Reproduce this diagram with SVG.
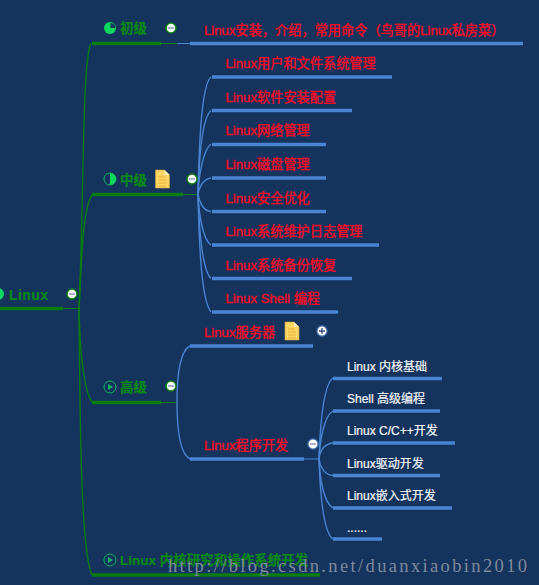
<svg xmlns="http://www.w3.org/2000/svg" width="539" height="585" viewBox="0 0 539 585">
<style>
text{font-family:"Liberation Sans","Noto Sans CJK SC",sans-serif}
.g{fill:#0a8a14;stroke:#0a8a14;stroke-width:.2;font-size:13.5px;font-weight:700}
.r{fill:#ff0a24;stroke:#ff0a24;stroke-width:.3;font-size:13.2px}
.w{fill:#f5f7fa;stroke:#f5f7fa;stroke-width:.2;font-size:12px}
.gc{fill:none;stroke:#0a7d12;stroke-width:1.4}
.bc{fill:none;stroke:#4a84d4;stroke-width:1.4}
.gu{stroke:#0a7d12;stroke-width:3.4}
.bu{stroke:#4a84d4;stroke-width:3.4}
.gt{stroke:#0a7d12;stroke-width:1}
.bt{stroke:#4a84d4;stroke-width:1}
.tg{fill:#fff;stroke:#0a7d12;stroke-width:1.5}
.tb{fill:#fff;stroke:#35629f;stroke-width:1.5}
.m{stroke:#7d86b5;stroke-width:1.3;fill:none}
.ic{fill:none;stroke:#0fb85c;stroke-width:1}
.dot{fill:#0bd85e}
.nt{fill:#fdd663;stroke:#c9a544;stroke-width:.6}
.nl{stroke:#e2a72c;stroke-width:.8}
</style>
<defs>
<g id="note"><path class="nt" d="M-7-9H2L7-4V9H-7Z"/><path d="M2-9L7-4H2Z" fill="#fff0c0"/><path class="nl" d="M-4-2H3M-4 1H4M-4 4H4M-4 7H4"/></g>
<g id="minusG"><circle class="tg" r="5"/><path class="m" d="M-3 0H3"/></g>
<g id="minusB"><circle class="tb" r="5.2"/><path class="m" d="M-3 0H3"/></g>
<g id="play"><circle class="ic" r="6"/><path d="M-2-3L3 0L-2 3Z" fill="#0fb85c"/></g>
</defs>
<rect width="539" height="585" fill="#14335d"/>
<g id="connectors">
<path class="gc" d="M79 308C84 200 82 60 91 43"/>
<path class="gc" d="M79 308C82 260 82 210 92 195"/>
<path class="gc" d="M79 308C80 350 84 390 92 402"/>
<path class="gc" d="M79 308C80 400 80 550 92 575"/>
<path class="gt" d="M63 308.500H79"/>
<path class="gt" d="M161 43.500H177"/>
<path class="bt" d="M177 43.500H191"/>
<path class="gt" d="M183 194.500H198"/>
<path class="gt" d="M161 402.500H177"/>
<path class="bt" d="M304 459H319"/>
<path class="bc" d="M198 194C199 150 201 85 211 77"/>
<path class="bc" d="M198 194C199 160 202 118 211 110.500"/>
<path class="bc" d="M198 194C199 175 203 150 211 144"/>
<path class="bc" d="M198 194C200 185 204 179 211 178"/>
<path class="bc" d="M198 194C200 204 204 211 211 211.500"/>
<path class="bc" d="M198 194C199 215 203 240 211 245"/>
<path class="bc" d="M198 194C199 225 202 270 211 278.500"/>
<path class="bc" d="M198 194C199 240 201 300 211 312"/>
<path class="bc" d="M177 402C177 385 178 352 190 346"/>
<path class="bc" d="M177 402C177 420 178 453 190 459"/>
<path class="bc" d="M319 459C320 430 323 385 333 378"/>
<path class="bc" d="M319 459C320 440 324 416 333 411"/>
<path class="bc" d="M319 459C320 450 325 444 333 443"/>
<path class="bc" d="M319 459C320 467 325 475 333 475.500"/>
<path class="bc" d="M319 459C320 480 324 503 333 508"/>
<path class="bc" d="M319 459C320 490 323 532 333 539"/>
</g>
<g id="root"><path class="gu" d="M0 308.500H63"/><circle cx="-2" cy="294" r="6" class="dot"/><text x="9" y="300" class="g" style="font-size:14px;letter-spacing:.4px">Linux</text><use href="#minusG" x="72" y="294"/></g>
<g id="n-chuji"><path class="gu" d="M92 43.500H161"/><circle cx="110" cy="28" r="6" class="dot"/><path d="M110.500 23V28H115.500A5 5 0 0 0 110.500 23Z" fill="#14335d"/><text x="120" y="33" class="g">初级</text><use href="#minusG" x="171" y="28"/></g>
<g id="n-install"><path class="bu" d="M190 43.500H523"/><text x="204" y="35" class="r">Linux安装，介绍，常用命令（鸟哥的Linux私房菜）</text></g>
<g id="n-zhongji"><path class="gu" d="M92 194.500H183"/><circle cx="110" cy="179" r="6" class="ic"/><path d="M110 173A6 6 0 0 1 110 185Z" fill="#0bd85e"/><text x="120" y="185" class="g">中级</text><use href="#note" x="162.500" y="179"/><use href="#minusG" x="192" y="179"/></g>
<g id="m1"><path class="bu" d="M212 77H392"/><text x="225.500" y="68" class="r">Linux用户和文件系统管理</text></g>
<g id="m2"><path class="bu" d="M212 110.500H352"/><text x="225.500" y="102" class="r">Linux软件安装配置</text></g>
<g id="m3"><path class="bu" d="M212 144.500H326"/><text x="225.500" y="135" class="r">Linux网络管理</text></g>
<g id="m4"><path class="bu" d="M212 178H326"/><text x="225.500" y="169" class="r">Linux磁盘管理</text></g>
<g id="m5"><path class="bu" d="M212 211.500H326"/><text x="225.500" y="203" class="r">Linux安全优化</text></g>
<g id="m6"><path class="bu" d="M212 245H379"/><text x="225.500" y="236" class="r">Linux系统维护日志管理</text></g>
<g id="m7"><path class="bu" d="M212 278.500H352"/><text x="225.500" y="270" class="r">Linux系统备份恢复</text></g>
<g id="m8"><path class="bu" d="M212 312H338"/><text x="225.500" y="303" class="r">Linux Shell 编程</text></g>
<g id="n-gaoji"><path class="gu" d="M92 402.500H161"/><use href="#play" x="110" y="387"/><text x="120" y="392" class="g">高级</text><use href="#minusG" x="171" y="386"/></g>
<g id="n-server"><path class="bu" d="M190 346H313"/><text x="204" y="337" class="r">Linux服务器</text><use href="#note" x="292" y="331"/><circle class="tb" cx="322" cy="331" r="5.200"/><path class="m" d="M319 331H325M322 328V334" style="stroke:#35507f"/></g>
<g id="n-dev"><path class="bu" d="M190 459H304"/><text x="204" y="450" class="r">Linux程序开发</text><use href="#minusB" x="313" y="444"/></g>
<g id="d1"><path class="bu" d="M333 378.500H442"/><text x="347" y="371" class="w">Linux 内核基础</text></g>
<g id="d2"><path class="bu" d="M333 411H440"/><text x="347" y="403" class="w">Shell 高级编程</text></g>
<g id="d3"><path class="bu" d="M333 443H455"/><text x="347" y="435" class="w">Linux C/C++开发</text></g>
<g id="d4"><path class="bu" d="M333 475.500H440"/><text x="347" y="468" class="w">Linux驱动开发</text></g>
<g id="d5"><path class="bu" d="M333 508H452"/><text x="347" y="500" class="w">Linux嵌入式开发</text></g>
<g id="d6"><path class="bu" d="M333 539H382"/><text x="347" y="532" class="w">......</text></g>
<g id="n-kernel"><path class="gu" d="M92 575H320"/><use href="#play" x="110" y="560"/><text x="120" y="565" class="g">Linux 内核研究和操作系统开发</text></g>
<text x="168" y="572" font-size="18.500" fill="#7f8b9e" textLength="359" lengthAdjust="spacing" style="font-family:'Liberation Serif',serif">http://blog.csdn.net/duanxiaobin2010</text>
</svg>
